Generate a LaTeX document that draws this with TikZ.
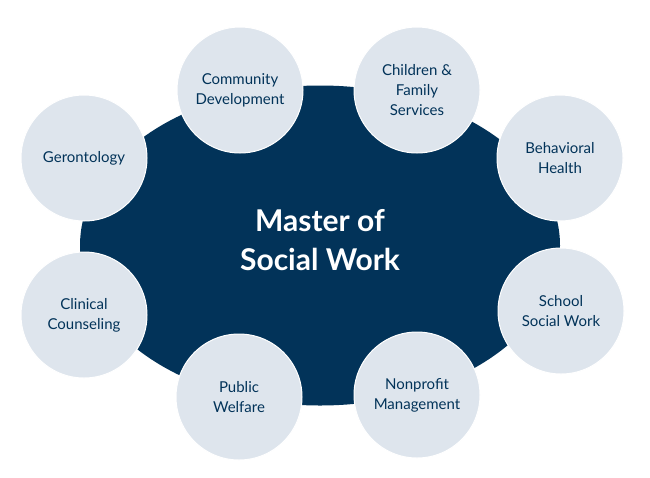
\documentclass[tikz,border=0pt]{standalone}
\usepackage{fontspec}
\setmainfont{Lato}
\usepackage{xcolor}
\usetikzlibrary{shapes.geometric}
\definecolor{SWNavy}{RGB}{ 2, 51, 89}
\definecolor{SWMist}{RGB}{222,229,237}

\begin{document}
\begin{tikzpicture}[x=1pt,y=-1pt,
    hub/.style={ellipse, fill=SWNavy, minimum width=480pt, minimum height=320pt, inner sep=0pt},
    area/.style={circle, fill=SWMist, draw=white, line width=1pt, minimum size=126pt,
                 inner sep=0pt, align=center, text=SWNavy, font=\fontsize{15}{20}\selectfont}]
      \fill[white] (0,0) rectangle (650,477);
      % centre ellipse
      \node[hub] (msw) at (320,245.5) {};
      \node[text=white, align=center, font=\bfseries\fontsize{30}{39}\selectfont]
        (title) at (320,240) {Master of\\Social Work};
      % specialisations
      \node[area] (comm) at (240,90)  {Community\\Development};
      \node[area] (kids) at (417,90)  {Children \&\\Family\\Services};
      \node[area] (geron) at (84,158) {Gerontology};
      \node[area] (behav) at (560,158) {Behavioral\\Health};
      \node[area] (clin) at (84,315)  {Clinical\\Counseling};
      \node[area] (school) at (561,311) {School\\Social Work};
      \node[area] (pub) at (239,397)  {Public\\Welfare};
      \node[area] (nonp) at (417,395) {Nonprofit\\Management};
\end{tikzpicture}
\end{document}
